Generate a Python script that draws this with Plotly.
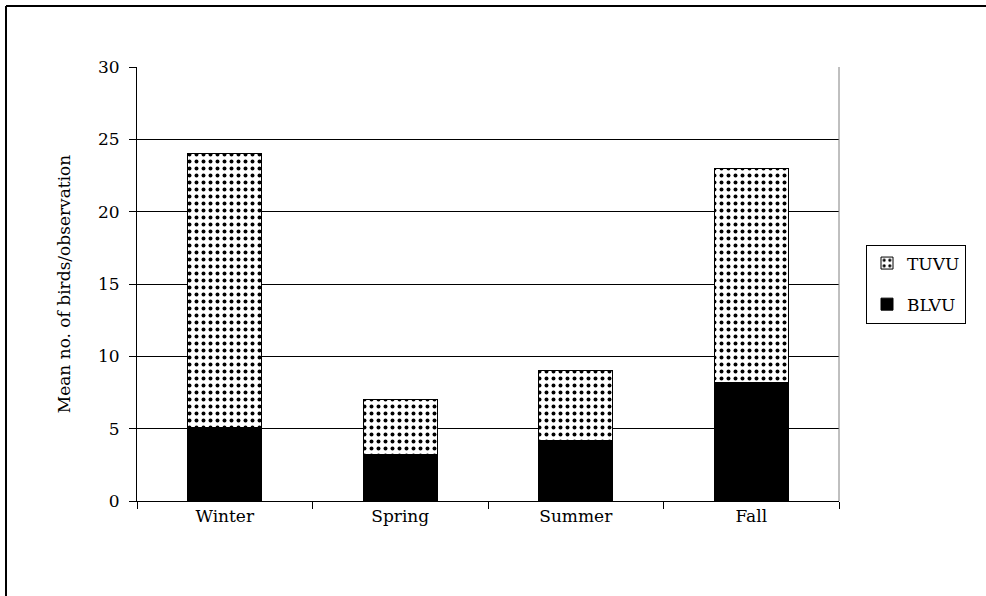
import plotly.graph_objects as go

seasons = ["Winter", "Spring", "Summer", "Fall"]
blvu = [5.1, 3.2, 4.15, 8.2]
tuvu_total = [24.0, 7.0, 9.0, 23.0]
tuvu = [t - b for t, b in zip(tuvu_total, blvu)]
y_ticks = [0, 5, 10, 15, 20, 25, 30]

FONT = "DejaVu Serif"
FS = 17

fig = go.Figure()
fig.add_trace(go.Bar(
    x=seasons, y=blvu, name="BLVU", legendgroup="b", legendrank=2,
    marker=dict(color="black", line=dict(color="black", width=1)),
))
fig.add_trace(go.Bar(
    x=seasons, y=tuvu, name="TUVU", legendgroup="t", legendrank=1,
    marker=dict(color="white", line=dict(color="black", width=1),
                pattern=dict(shape=".", fgcolor="black", bgcolor="white",
                             size=7, solidity=0.25, fillmode="replace")),
))

L, R, T, B = 137, 147, 67, 95
W, H = 986, 596
pw, ph = W - L - R, H - T - B

fig.update_layout(
    width=W, height=H,
    margin=dict(l=L, r=R, t=T, b=B),
    barmode="stack", bargap=0.58,
    plot_bgcolor="white", paper_bgcolor="white",
    font=dict(family=FONT, size=FS, color="black"),
    showlegend=True,
    legend=dict(
        traceorder="grouped",
        x=(866 - L) / pw, y=(H - B - 284) / ph, xanchor="left", yanchor="middle",
        bordercolor="black", borderwidth=1, bgcolor="white",
        font=dict(family=FONT, size=FS),
        itemwidth=30, tracegroupgap=16,
    ),
    xaxis=dict(
        showline=True, linecolor="black", linewidth=1,
        ticks="outside", tickson="boundaries", ticklen=7, tickcolor="black",
        showgrid=False, tickfont=dict(family=FONT, size=FS),
    ),
    yaxis=dict(
        range=[0, 30], tickvals=y_ticks,
        showline=True, linecolor="black", linewidth=1,
        ticks="outside", ticklen=7, tickcolor="black",
        ticklabelstandoff=6,
        showgrid=True, gridcolor="black", gridwidth=1,
        zeroline=False,
        title=dict(text="Mean no. of birds/observation", font=dict(family=FONT, size=FS), standoff=23),
        tickfont=dict(family=FONT, size=FS),
    ),
    shapes=[
        dict(type="line", xref="paper", yref="paper", x0=1, x1=1, y0=0, y1=1,
             line=dict(color="gray", width=1)),
        dict(type="line", xref="paper", yref="paper",
             x0=(6 - L) / pw, x1=(W + 5 - L) / pw,
             y0=1 + (T - 6) / ph, y1=1 + (T - 6) / ph,
             line=dict(color="black", width=2)),
        dict(type="line", xref="paper", yref="paper",
             x0=(6 - L) / pw, x1=(6 - L) / pw,
             y0=1 + (T - 6) / ph, y1=-(B + 5) / ph,
             line=dict(color="black", width=2)),
    ],
)

fig.write_html("out.html", config={"displayModeBar": False},
               post_script="document.body.style.margin='0';")
